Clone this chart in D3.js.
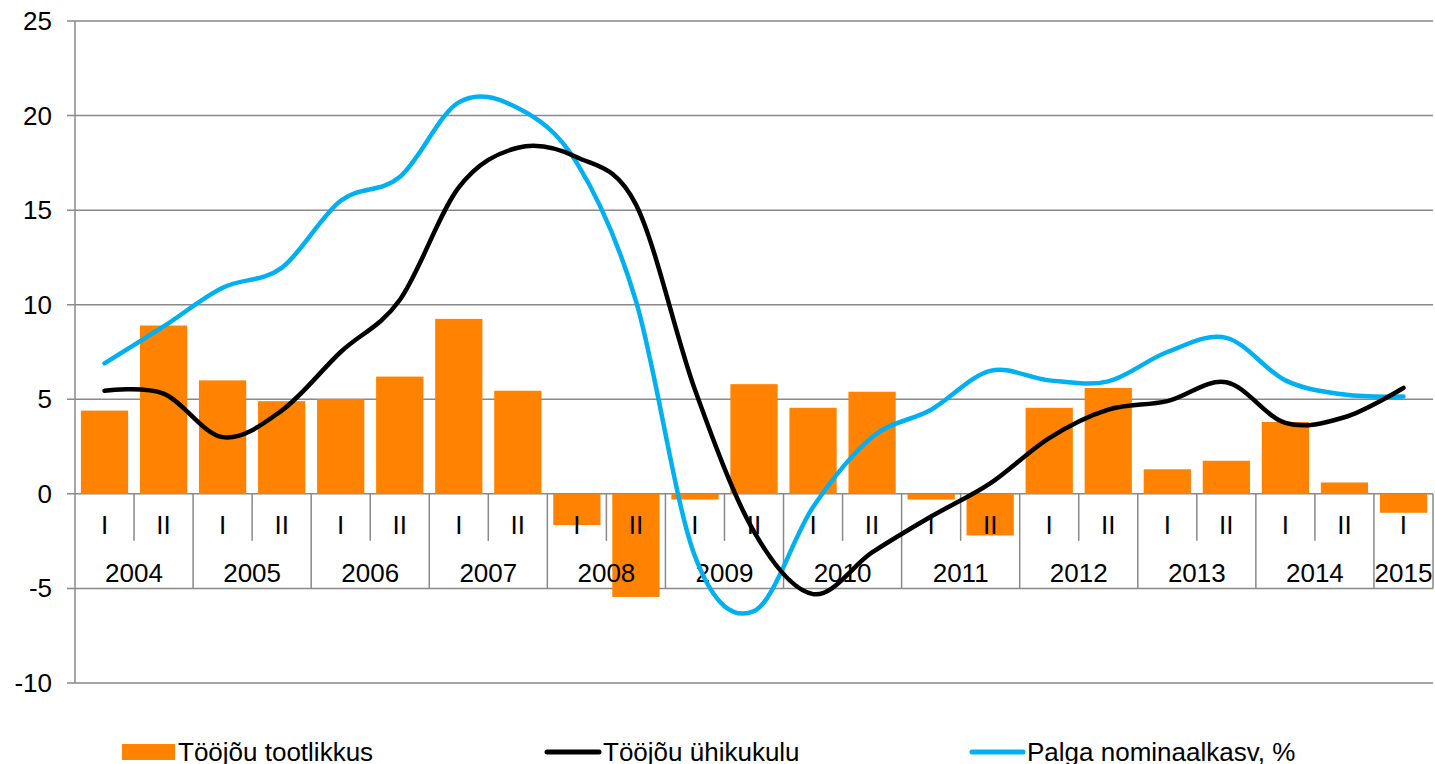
<!DOCTYPE html>
<html>
<head>
<meta charset="utf-8">
<script src="https://cdn.jsdelivr.net/npm/d3@7"></script>
<style>
  body { margin: 0; background: #fff; }
  svg { display: block; font-family: "Liberation Sans", Arial, sans-serif; }
</style>
</head>
<body>
<svg id="chart" width="1435" height="764"></svg>
<script>
// half-year categories 2004 I ... 2015 I
var years = ["2004","2005","2006","2007","2008","2009","2010","2011","2012","2013","2014","2015"];
var halves = ["I","II","I","II","I","II","I","II","I","II","I","II",
              "I","II","I","II","I","II","I","II","I","II","I"];

// Tööjõu tootlikkus (bars)
var tootlikkus = [4.4, 8.9, 6.0, 4.9, 5.0, 6.2, 9.25, 5.45, -1.65, -5.45, -0.3, 5.8,
                  4.55, 5.4, -0.3, -2.2, 4.55, 5.6, 1.3, 1.75, 3.8, 0.6, -1.0];
// Tööjõu ühikukulu (black line)
var uhikukulu = [5.45, 5.3, 3.0, 4.4, 7.5, 10.25, 16.2, 18.3, 17.8, 15.3, 5.5, -2.0,
                 -5.3, -3.1, -1.2, 0.55, 2.95, 4.45, 4.9, 5.9, 3.75, 4.05, 5.6];
// Palga nominaalkasv, % (blue line)
var palk = [6.9, 8.85, 10.9, 11.95, 15.5, 16.75, 20.7, 20.4, 17.5, 10.2, -3.3, -6.2,
            -0.7, 3.0, 4.45, 6.5, 6.0, 5.95, 7.5, 8.25, 6.0, 5.25, 5.15];

var yTicks = [-10, -5, 0, 5, 10, 15, 20, 25];

var m = {left: 75, right: 1433, top: 21, bottom: 683};
var grey = "#898989";
var fs = 26;

var svg = d3.select("#chart");

var x = d3.scaleBand().domain(d3.range(halves.length))
    .range([m.left, m.right]).paddingInner(0.2).paddingOuter(0.1);
var y = d3.scaleLinear().domain([-10, 25]).range([m.bottom, m.top]);
var cx = function(i) { return x(i) + x.bandwidth() / 2; };
var step = x.step();

// gridlines + y labels
svg.append("g").selectAll("line").data(yTicks).enter().append("line")
    .attr("x1", m.left - 8).attr("x2", m.right)
    .attr("y1", d => y(d)).attr("y2", d => y(d))
    .attr("stroke", grey).attr("stroke-width", 1.5);
svg.append("g").selectAll("text").data(yTicks).enter().append("text")
    .attr("x", 52).attr("y", d => y(d) + 9)
    .attr("text-anchor", "end").attr("font-size", fs).attr("fill", "#000")
    .text(d => d);

// y axis line
svg.append("line").attr("x1", m.left).attr("x2", m.left).attr("y1", m.top).attr("y2", m.bottom)
    .attr("stroke", grey).attr("stroke-width", 1.5);

// bars
svg.append("g").selectAll("rect").data(tootlikkus).enter().append("rect")
    .attr("x", (d, i) => x(i)).attr("width", x.bandwidth())
    .attr("y", d => y(Math.max(0, d)))
    .attr("height", d => Math.abs(y(d) - y(0)))
    .attr("fill", "#ff8200");

// category axis separators
var seps = d3.range(1, halves.length + 1);
svg.append("g").selectAll("line").data(seps).enter().append("line")
    .attr("x1", d => m.left + d * step).attr("x2", d => m.left + d * step)
    .attr("y1", y(0))
    .attr("y2", d => (d % 2 === 0 || d === halves.length) ? y(-5) : y(0) + 47)
    .attr("stroke", grey).attr("stroke-width", 1.5);

// half labels
svg.append("g").selectAll("text").data(halves).enter().append("text")
    .attr("x", (d, i) => cx(i)).attr("y", 534)
    .attr("text-anchor", "middle").attr("font-size", fs).text(d => d);

// year labels
svg.append("g").selectAll("text").data(years).enter().append("text")
    .attr("x", (d, i) => {
        var a = i * 2, b = Math.min(i * 2 + 2, halves.length);
        return m.left + (a + b) / 2 * step;
    })
    .attr("y", 582).attr("text-anchor", "middle").attr("font-size", fs).text(d => d);

// lines
var line = d3.line().x((d, i) => cx(i)).y(d => y(d)).curve(d3.curveCardinal.tension(0));
svg.append("path").datum(palk).attr("d", line)
    .attr("fill", "none").attr("stroke", "#00b0f0").attr("stroke-width", 4.5)
    .attr("stroke-linecap", "round");
svg.append("path").datum(uhikukulu).attr("d", line)
    .attr("fill", "none").attr("stroke", "#000").attr("stroke-width", 4.5)
    .attr("stroke-linecap", "round");

// legend
var lg = svg.append("g");
lg.append("rect").attr("x", 122).attr("y", 744).attr("width", 53).attr("height", 16).attr("fill", "#ff8200");
lg.append("text").attr("x", 178).attr("y", 761).attr("font-size", fs).text("Tööjõu tootlikkus");
lg.append("line").attr("x1", 547).attr("x2", 599).attr("y1", 752).attr("y2", 752)
    .attr("stroke", "#000").attr("stroke-width", 5).attr("stroke-linecap", "round");
lg.append("text").attr("x", 603).attr("y", 761).attr("font-size", fs).text("Tööjõu ühikukulu");
lg.append("line").attr("x1", 972).attr("x2", 1023).attr("y1", 752).attr("y2", 752)
    .attr("stroke", "#00b0f0").attr("stroke-width", 5).attr("stroke-linecap", "round");
lg.append("text").attr("x", 1027).attr("y", 761).attr("font-size", fs).text("Palga nominaalkasv, %");
</script>
</body>
</html>
